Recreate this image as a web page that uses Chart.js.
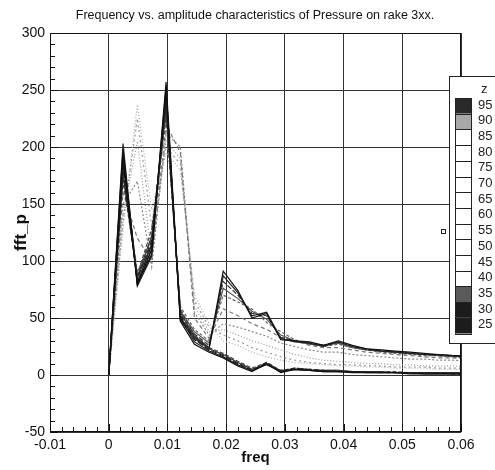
<!DOCTYPE html>
<html>
<head>
<meta charset="utf-8">
<script src="https://cdn.jsdelivr.net/npm/chart.js@4.4.1/dist/chart.umd.min.js"></script>
<style>
  html, body { margin: 0; padding: 0; background: #fff; }
  #wrap { position: relative; width: 495px; height: 470px; }
</style>
</head>
<body>
<div id="wrap"><canvas id="fftChart"></canvas></div>
<script>
const chartTitle = "Frequency vs. amplitude characteristics of Pressure on rake 3xx.";
const xTicks = [-0.01, 0, 0.01, 0.02, 0.03, 0.04, 0.05, 0.06];
const yTicks = [-50, 0, 50, 100, 150, 200, 250, 300];
const zLevels = [95, 90, 85, 80, 75, 70, 65, 60, 55, 50, 45, 40, 35, 30, 25];

// frequency samples
const freq = [0, 0.00244, 0.00488, 0.00732, 0.00977, 0.0122, 0.0146, 0.0171, 0.0195, 0.022,
  0.0244, 0.0269, 0.0293, 0.0317, 0.0342, 0.0366, 0.0391, 0.0415, 0.0439, 0.0464,
  0.0488, 0.0513, 0.0537, 0.0562, 0.0586, 0.061];

// lines that die out after 0.02
const z25 = [0, 192, 79, 110, 252, 47, 27, 20, 15, 8, 3, 10, 2, 5, 4, 3, 3, 2, 2, 2, 2, 1, 1, 1, 1, 1];
const z30 = [0, 186, 81, 114, 246, 50, 29, 21, 16, 9, 4, 9, 3, 5, 4, 3, 3, 3, 2, 2, 2, 2, 1, 1, 1, 1];
const z35 = [0, 180, 84, 118, 240, 52, 31, 22, 17, 10, 4, 11, 3, 6, 5, 4, 3, 3, 3, 2, 2, 2, 2, 2, 1, 1];
const z40 = [0, 175, 86, 122, 234, 55, 33, 23, 18, 11, 5, 10, 4, 5, 4, 4, 4, 3, 3, 3, 2, 2, 2, 2, 2, 2];
const z45 = [0, 170, 88, 128, 226, 58, 35, 24, 19, 12, 6, 11, 4, 6, 5, 4, 4, 3, 3, 3, 3, 2, 2, 2, 2, 2];
// lines with the second hump near 0.02
const z50 = [0, 198, 80, 106, 257, 50, 34, 24, 91, 74, 50, 54, 31, 30, 29, 26, 30, 26, 23, 22, 21, 20, 19, 18, 17, 17];
const z55 = [0, 203, 78, 104, 250, 48, 32, 23, 87, 72, 52, 55, 32, 29, 28, 25, 29, 25, 23, 21, 20, 19, 18, 18, 17, 16];
const z60 = [0, 196, 82, 110, 244, 53, 36, 26, 82, 70, 54, 52, 33, 30, 28, 26, 29, 25, 22, 21, 20, 19, 18, 17, 17, 16];
const z65 = [0, 190, 85, 115, 236, 56, 38, 28, 76, 67, 56, 49, 35, 30, 27, 26, 28, 24, 22, 21, 20, 19, 18, 17, 16, 16];
const z70 = [0, 184, 90, 120, 228, 60, 40, 30, 70, 64, 58, 46, 38, 31, 27, 25, 27, 24, 22, 20, 19, 18, 17, 17, 16, 15];
// light dotted lines
const z75 = [0, 160, 120, 100, 220, 195, 50, 32, 58, 52, 45, 40, 33, 30, 26, 24, 24, 22, 20, 19, 18, 17, 16, 15, 15, 14];
const z80 = [0, 150, 170, 95, 212, 200, 55, 35, 45, 42, 38, 34, 28, 25, 22, 20, 20, 18, 17, 16, 15, 14, 14, 13, 13, 12];
const z85 = [0, 140, 205, 105, 205, 190, 60, 38, 40, 35, 30, 26, 22, 18, 15, 13, 12, 11, 10, 10, 9, 9, 8, 8, 8, 7];
const z90 = [0, 135, 225, 130, 200, 185, 65, 42, 35, 30, 24, 20, 16, 13, 11, 10, 9, 9, 8, 8, 7, 7, 7, 6, 6, 6];
const z95 = [0, 128, 237, 145, 195, 180, 70, 45, 30, 26, 20, 16, 13, 11, 10, 9, 8, 8, 7, 7, 6, 6, 6, 5, 5, 5];

const series = [
  { z: 25, values: z25, color: "#111", dash: [] },
  { z: 30, values: z30, color: "#1a1a1a", dash: [] },
  { z: 35, values: z35, color: "#222", dash: [6, 2] },
  { z: 40, values: z40, color: "#333", dash: [] },
  { z: 45, values: z45, color: "#444", dash: [4, 2] },
  { z: 50, values: z50, color: "#111", dash: [] },
  { z: 55, values: z55, color: "#222", dash: [] },
  { z: 60, values: z60, color: "#333", dash: [5, 2] },
  { z: 65, values: z65, color: "#555", dash: [] },
  { z: 70, values: z70, color: "#666", dash: [3, 2] },
  { z: 75, values: z75, color: "#777", dash: [4, 3] },
  { z: 80, values: z80, color: "#888", dash: [2, 2] },
  { z: 85, values: z85, color: "#999", dash: [1, 2] },
  { z: 90, values: z90, color: "#999", dash: [2, 3] },
  { z: 95, values: z95, color: "#aaa", dash: [1, 2] },
];

const FONT = "'Liberation Sans', Arial, sans-serif";

const tecplotFrame = {
  id: "tecplotFrame",
  afterDraw(chart) {
    const { ctx, chartArea: a, scales: { x, y } } = chart;
    ctx.save();

    // frame round the plot
    ctx.strokeStyle = "#111";
    ctx.lineWidth = 1;
    ctx.strokeRect(a.left + 0.5, a.top + 0.5, a.right - a.left - 1, a.bottom - a.top - 1);

    // minor ticks, left and bottom, pointing inward
    ctx.beginPath();
    for (let v = -50; v <= 300; v += 10) {
      const py = Math.round(y.getPixelForValue(v)) + 0.5;
      ctx.moveTo(a.left, py);
      ctx.lineTo(a.left + (v % 50 === 0 ? 8 : 5), py);
    }
    for (let i = 0; i <= 35; i++) {
      const px = Math.round(x.getPixelForValue(-0.01 + i * 0.002)) + 0.5;
      ctx.moveTo(px, a.bottom);
      ctx.lineTo(px, a.bottom - (i % 5 === 0 ? 8 : 5));
    }
    ctx.stroke();

    // title
    ctx.fillStyle = "#111";
    ctx.font = "12.5px " + FONT;
    ctx.textAlign = "center";
    ctx.textBaseline = "middle";
    ctx.fillText(chartTitle, 255, 16);

    // contour legend box (partly off the canvas, like the original)
    const bx = 449.5, by = 76.5, bw = 60, bh = 267;
    ctx.fillStyle = "#fff";
    ctx.fillRect(bx, by, bw, bh);
    ctx.strokeStyle = "#222";
    ctx.strokeRect(bx, by, bw, bh);

    ctx.font = "13px " + FONT;
    ctx.textAlign = "left";
    ctx.fillStyle = "#222";
    ctx.fillText("z", 481, 89);

    const cellX = 455, cellW = 17, cellTop = 98, cellH = 15.7;
    zLevels.forEach((z, i) => {
      const cy = cellTop + i * cellH;
      let fill = "#fff";
      if (z === 95) fill = "#2a2a2a";
      else if (z === 90) fill = "#a8a8a8";
      else if (z === 35) fill = "#5a5a5a";
      else if (z <= 30) fill = "#1c1c1c";
      ctx.fillStyle = fill;
      ctx.fillRect(cellX, cy, cellW, cellH);
      ctx.fillStyle = "#222";
      ctx.fillText(String(z), 478, cy + 7);
    });
    ctx.strokeStyle = "#222";
    ctx.beginPath();
    for (let i = 0; i <= zLevels.length; i++) {
      const cy = Math.round(cellTop + i * cellH) + 0.5;
      ctx.moveTo(cellX, cy);
      ctx.lineTo(cellX + cellW, cy);
    }
    ctx.moveTo(cellX + 0.5, cellTop);
    ctx.lineTo(cellX + 0.5, cellTop + zLevels.length * cellH);
    ctx.moveTo(cellX + cellW - 0.5, cellTop);
    ctx.lineTo(cellX + cellW - 0.5, cellTop + zLevels.length * cellH);
    ctx.stroke();

    // little marker left of the legend
    ctx.strokeRect(441.5, 229.5, 4, 4);

    ctx.restore();
  }
};

new Chart(document.getElementById("fftChart"), {
  type: "line",
  data: {
    datasets: series.map(s => ({
      label: "z=" + s.z,
      data: freq.map((f, i) => ({ x: f, y: s.values[i] })),
      borderColor: s.color,
      borderWidth: 1.2,
      borderDash: s.dash,
      pointRadius: 0,
      tension: 0,
      fill: false,
    })),
  },
  options: {
    responsive: true,
    maintainAspectRatio: false,
    devicePixelRatio: 1,
    animation: false,
    layout: { padding: { top: 33, right: 34, left: 0, bottom: 0 } },
    plugins: {
      legend: { display: false },
      tooltip: { enabled: false },
      title: { display: false },
    },
    scales: {
      x: {
        type: "linear",
        min: -0.01,
        max: 0.06,
        afterBuildTicks: (s) => { s.ticks = xTicks.map(v => ({ value: v })); },
        afterFit: (s) => { s.height = 38; },
        ticks: {
          color: "#111",
          font: { family: FONT, size: 14 },
          padding: 5,
          maxRotation: 0,
          autoSkip: false,
          callback: (v) => String(Number(v.toFixed(2))),
        },
        grid: { color: "#333", lineWidth: 1, drawTicks: false },
        border: { display: false },
        title: {
          display: true,
          text: "freq",
          color: "#111",
          font: { family: FONT, size: 15, weight: "bold" },
          padding: { top: 0, bottom: 3 },
        },
      },
      y: {
        min: -50,
        max: 300,
        afterBuildTicks: (s) => { s.ticks = yTicks.map(v => ({ value: v })); },
        afterFit: (s) => { s.width = 50; },
        ticks: {
          color: "#111",
          font: { family: FONT, size: 14 },
          padding: 5,
          autoSkip: false,
        },
        grid: { color: "#333", lineWidth: 1, drawTicks: false },
        border: { display: false },
        title: {
          display: true,
          text: "fft_p",
          color: "#111",
          font: { family: FONT, size: 17, weight: "bold" },
          padding: { top: 11, bottom: 0 },
        },
      },
    },
  },
  plugins: [tecplotFrame],
});
</script>
</body>
</html>
